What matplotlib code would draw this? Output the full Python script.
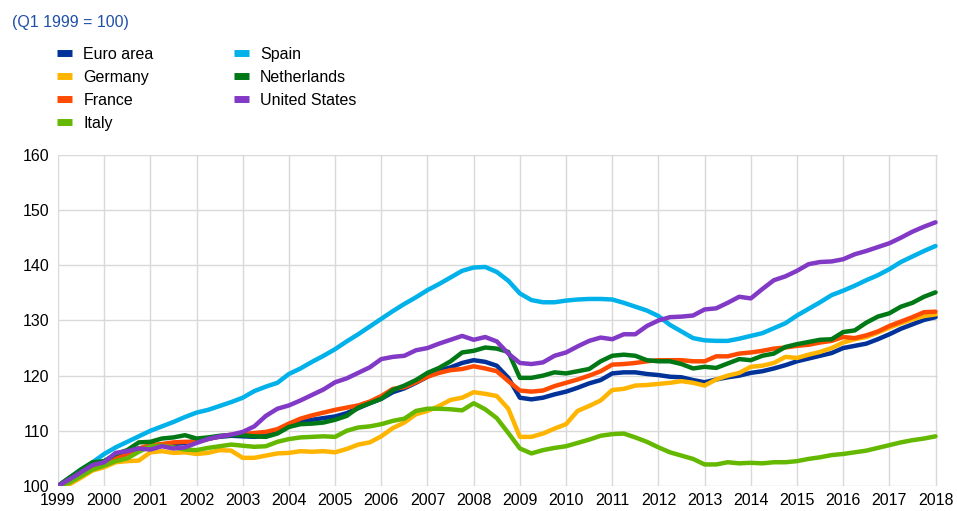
import matplotlib.pyplot as plt
import numpy as np

plt.rcParams['font.family'] = ['Liberation Sans', 'DejaVu Sans']

# quarterly, Q1 1999 .. Q1 2018
start_year = 1999
euro_area = [100, 101.4, 102.7, 103.8, 104.5, 105.3, 106.2, 106.8, 107.0, 107.3, 107.6, 107.8,
             108.2, 108.6, 108.9, 109.1, 109.0, 108.9, 109.1, 109.8, 110.8, 111.6, 112.0, 112.3,
             112.6, 113.2, 114.1, 115.0, 115.8, 117.0, 117.7, 118.7, 119.8, 120.9, 121.5, 122.3,
             122.8, 122.5, 121.8, 119.6, 116.0, 115.7, 116.0, 116.6, 117.1, 117.8, 118.6, 119.2,
             120.4, 120.6, 120.6, 120.3, 120.1, 119.8, 119.7, 119.2, 118.8, 119.3, 119.7, 120.0,
             120.5, 120.8, 121.3, 121.9, 122.6, 123.1, 123.6, 124.1, 125.0, 125.4, 125.8, 126.6,
             127.5, 128.5, 129.3, 130.1, 130.6]
germany = [100, 100.3, 101.5, 102.8, 103.4, 104.3, 104.5, 104.6, 106.1, 106.3, 106.0, 106.1,
           105.8, 106.0, 106.5, 106.4, 105.1, 105.1, 105.5, 105.9, 106.0, 106.3, 106.2, 106.3,
           106.1, 106.7, 107.5, 107.9, 109.0, 110.5, 111.5, 113.0, 113.6, 114.5, 115.6, 116.0,
           117.0, 116.7, 116.3, 114.0, 108.9, 108.9, 109.5, 110.4, 111.2, 113.6, 114.5, 115.5,
           117.4, 117.6, 118.2, 118.3, 118.5, 118.7, 119.0, 118.7, 118.2, 119.3, 120.0, 120.5,
           121.6, 121.8, 122.3, 123.4, 123.2, 123.8, 124.3, 125.0, 126.0, 126.6, 127.0, 127.8,
           128.7, 129.5, 130.2, 130.8, 131.1]
france = [100, 101.5, 102.8, 103.8, 104.2, 105.0, 105.8, 106.8, 107.4, 107.6, 107.9, 108.0,
          108.0, 108.5, 109.0, 109.3, 109.4, 109.6, 109.8, 110.3, 111.3, 112.2, 112.8, 113.3,
          113.8, 114.2, 114.6, 115.3, 116.3, 117.6, 117.9, 118.8, 119.8, 120.5, 121.0, 121.2,
          121.7, 121.3, 120.8, 119.0, 117.3, 117.1, 117.3, 118.1, 118.7, 119.3, 120.0, 120.8,
          122.0, 122.1, 122.3, 122.6, 122.8, 122.8, 122.8, 122.6, 122.6, 123.5, 123.5, 124.0,
          124.2, 124.5, 124.9, 125.1, 125.4, 125.6, 126.0, 126.3, 127.0, 126.8, 127.3, 128.0,
          129.0, 129.8, 130.6, 131.5, 131.6]
italy = [100, 100.6, 101.8, 103.0, 103.7, 104.5, 105.0, 106.2, 107.2, 107.3, 107.0, 106.6,
         106.5, 106.9, 107.2, 107.5, 107.3, 107.1, 107.2, 108.0, 108.5, 108.8, 108.9, 109.0,
         108.9, 110.0, 110.6, 110.8, 111.2, 111.8, 112.2, 113.6, 114.0, 114.0, 113.9, 113.7,
         115.0, 113.9, 112.3, 109.6, 106.8, 105.9, 106.5, 106.9, 107.2, 107.8, 108.4, 109.1,
         109.4, 109.5, 108.8, 108.0, 107.0, 106.1, 105.5, 104.9, 103.9, 103.9, 104.3, 104.1,
         104.2, 104.1, 104.3, 104.3, 104.5, 104.9, 105.2, 105.6, 105.8, 106.1, 106.4, 106.9,
         107.4, 107.9, 108.3, 108.6, 109.0]
spain = [100, 101.5, 103.0, 104.3, 105.8, 107.0, 108.0, 109.0, 110.0, 110.8, 111.6, 112.5,
         113.3, 113.8, 114.5, 115.2, 116.0, 117.2, 118.0, 118.7, 120.3, 121.3, 122.5, 123.6,
         124.8, 126.2, 127.5, 128.9, 130.3, 131.7, 133.0, 134.2, 135.5, 136.6, 137.8, 139.0,
         139.6, 139.7, 138.8, 137.2, 134.9, 133.7, 133.3, 133.3, 133.6, 133.8, 133.9, 133.9,
         133.8, 133.2, 132.5, 131.8, 130.8, 129.2, 128.0, 126.8, 126.4, 126.3, 126.3, 126.7,
         127.2, 127.7, 128.6, 129.5, 130.9, 132.1, 133.3, 134.6, 135.4, 136.3, 137.3, 138.2,
         139.3, 140.6, 141.6, 142.6, 143.5]
netherlands = [100, 101.5, 103.0, 104.3, 104.5, 105.8, 106.5, 107.9, 108.0, 108.6, 108.8, 109.2,
               108.6, 108.8, 109.1, 109.2, 109.2, 109.0, 108.9, 109.5, 110.7, 111.2, 111.3, 111.5,
               112.0, 112.7, 114.2, 115.0, 115.8, 117.4, 118.2, 119.2, 120.5, 121.4, 122.6, 124.2,
               124.5, 125.1, 124.9, 124.3, 119.6, 119.6, 120.0, 120.6, 120.4, 120.8, 121.2, 122.6,
               123.6, 123.8, 123.6, 122.8, 122.6, 122.6, 122.1, 121.3, 121.6, 121.4, 122.2, 123.0,
               122.8, 123.6, 124.0, 125.2, 125.7, 126.1, 126.5, 126.6, 127.9, 128.2, 129.6, 130.7,
               131.3, 132.5, 133.2, 134.3, 135.1]
united_states = [100, 101.2, 102.5, 103.8, 104.3, 106.0, 106.3, 106.8, 106.6, 107.2, 106.8, 107.0,
                 107.8, 108.5, 109.0, 109.3, 109.8, 110.8, 112.7, 114.0, 114.6, 115.5, 116.5, 117.5,
                 118.8, 119.5, 120.5, 121.5, 123.0, 123.4, 123.6, 124.6, 125.0, 125.8, 126.5, 127.2,
                 126.5, 127.0, 126.2, 124.0, 122.3, 122.1, 122.4, 123.6, 124.2, 125.3, 126.3, 126.9,
                 126.6, 127.5, 127.5, 129.0, 130.0, 130.6, 130.7, 130.9, 132.0, 132.2, 133.2, 134.3,
                 134.0, 135.7, 137.3, 138.0, 139.0, 140.2, 140.6, 140.7, 141.1, 142.0, 142.6, 143.3,
                 144.0, 145.0, 146.1, 147.0, 147.8]

names = ['Euro area', 'Germany', 'France', 'Italy', 'Spain', 'Netherlands', 'United States']
series = [euro_area, germany, france, italy, spain, netherlands, united_states]
colours = ['#003299', '#FFB400', '#FF4B00', '#65B800', '#00B1EA', '#007816', '#8139C6']
years = list(range(1999, 2019))

x = start_year + np.arange(len(euro_area)) / 4.0

fig = plt.figure(figsize=(9.57, 5.11), dpi=100)
ax = fig.add_axes([0.0606, 0.049, 0.9194, 0.6477])

lines = []
for s, name, c in zip(series, names, colours):
    ln, = ax.plot(x, s, color=c, lw=3.2, label=name, solid_capstyle='round')
    lines.append(ln)

ax.set_xlim(1999, 2018.05)
ax.set_ylim(100, 160)
ax.set_xticks(years)
ax.set_yticks(range(100, 161, 10))
ax.tick_params(length=0, labelsize=11.5, pad=6)
ax.tick_params(axis='x', pad=5)
ax.grid(color='#d9d9d9', lw=1)
ax.set_axisbelow(True)
for sp in ax.spines.values():
    sp.set_visible(False)

fig.text(0.0125, 0.956, '(Q1 1999 = 100)', color='#1f4fa8', fontsize=11.5, va='center')

leg = fig.legend(handles=lines, loc='upper left', bbox_to_anchor=(0.0596, 0.908), ncol=2,
                 frameon=False, fontsize=11.5, handlelength=0.95, handletextpad=0.7,
                 columnspacing=5.0, labelspacing=0.5, borderpad=0, borderaxespad=0)
for h in leg.legend_handles:
    h.set_linewidth(5)
    h.set_solid_capstyle('butt')

fig.savefig('out.png', dpi=100)
